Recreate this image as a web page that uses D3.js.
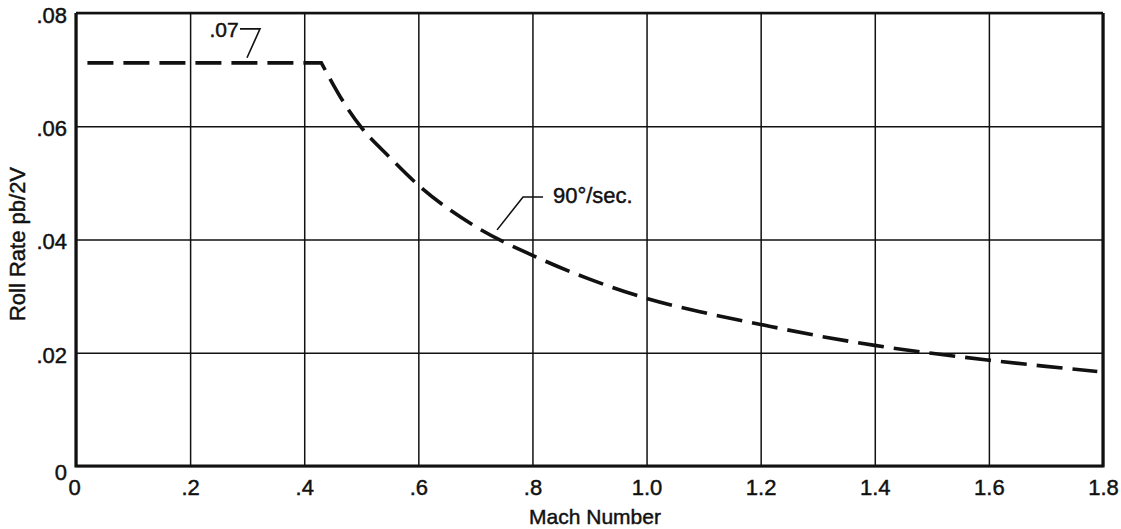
<!DOCTYPE html>
<html>
<head>
<meta charset="utf-8">
<script src="https://cdn.jsdelivr.net/npm/d3@7"></script>
<style>
  html, body { margin: 0; padding: 0; background: #fff; }
  svg { display: block; font-family: "Liberation Sans", Arial, Helvetica, sans-serif; }
  svg text { stroke: #111; stroke-width: 0.45px; }
</style>
</head>
<body>
<svg id="chart" width="1121" height="529"></svg>
<script>
// Roll rate requirement vs Mach number (90 deg/sec boundary)
const machTicks = [0, 0.2, 0.4, 0.6, 0.8, 1.0, 1.2, 1.4, 1.6, 1.8];
const machTickLabels = ["0", ".2", ".4", ".6", ".8", "1.0", "1.2", "1.4", "1.6", "1.8"];
const rateTicks = [0, 0.02, 0.04, 0.06, 0.08];
const rateTickLabels = ["0", ".02", ".04", ".06", ".08"];

// Boundary curve: flat at .07 up to about M 0.43, then constant 90 deg/sec
const mach = [0.02, 0.43, 0.475, 0.5, 0.55, 0.6, 0.7, 0.8, 0.9, 1.0, 1.1, 1.2, 1.3, 1.4, 1.5, 1.6, 1.7, 1.79];
const rollRate = [0.0712, 0.0712, 0.0633, 0.0598, 0.0545, 0.0496, 0.0423, 0.0372, 0.0330, 0.0296, 0.0271, 0.0250, 0.0230, 0.0213, 0.0199, 0.0187, 0.0176, 0.0167];

const svg = d3.select("#chart");
const plotLeft = 76, plotRight = 1103, plotTop = 13, plotBottom = 466;
const ink = "#111";

const x = d3.scaleLinear().domain([0, 1.8]).range([plotLeft, plotRight]);
const y = d3.scaleLinear().domain([0, 0.08]).range([plotBottom, plotTop]);

// Vertical grid + x labels
const xAxis = svg.append("g")
  .attr("transform", `translate(0,${plotBottom})`)
  .call(d3.axisBottom(x).tickValues(machTicks)
    .tickFormat((d, i) => machTickLabels[i])
    .tickSize(-(plotBottom - plotTop)).tickPadding(13));
xAxis.select(".domain").remove();
xAxis.selectAll("line").attr("stroke", ink).attr("stroke-width", 1.5);
xAxis.selectAll("text").attr("font-size", 22).attr("fill", ink)
  .attr("dx", (d, i) => i === 0 ? -2 : 0);

// Horizontal grid + y labels
const yAxis = svg.append("g")
  .attr("transform", `translate(${plotLeft},0)`)
  .call(d3.axisLeft(y).tickValues(rateTicks)
    .tickFormat((d, i) => rateTickLabels[i])
    .tickSize(-(plotRight - plotLeft)).tickPadding(9));
yAxis.select(".domain").remove();
yAxis.selectAll("line").attr("stroke", ink).attr("stroke-width", 1.5);
yAxis.selectAll("text").attr("font-size", 22).attr("fill", ink)
  .attr("dy", (d, i) => i === 0 ? "0.6em" : "0.42em");

// Frame
svg.append("path")
  .attr("d", `M${x(0)},${y(0.08)}H${x(1.8)}`)
  .attr("fill", "none").attr("stroke", ink).attr("stroke-width", 2.5);
svg.append("path")
  .attr("d", `M${x(0)},${y(0.08)}V${y(0)}H${x(1.8)}V${y(0.08)}`)
  .attr("fill", "none").attr("stroke", ink).attr("stroke-width", 3.2);

// Dashed boundary: straight plateau, then a smooth falling branch
const pts = mach.map((m, i) => [m, rollRate[i]]);
const curve = d3.line().x(d => x(d[0])).y(d => y(d[1])).curve(d3.curveMonotoneX);
const branch = curve(pts.slice(1));
const boundaryPath = `M${x(pts[0][0])},${y(pts[0][1])}L` + branch.slice(1);
svg.append("path")
  .attr("d", boundaryPath)
  .attr("fill", "none")
  .attr("stroke", ink)
  .attr("stroke-width", 3.6)
  .attr("stroke-dasharray", "26,10");

// ".07" callout
svg.append("text")
  .attr("x", x(0.285)).attr("y", y(0.0758))
  .attr("text-anchor", "end").attr("font-size", 21).attr("fill", ink)
  .text(".07");
svg.append("path")
  .attr("d", d3.line()([[x(0.2874), y(0.0772)], [x(0.3225), y(0.0772)], [x(0.2997), y(0.0721)]]))
  .attr("fill", "none").attr("stroke", ink).attr("stroke-width", 1.6);

// "90°/sec." callout
svg.append("path")
  .attr("d", d3.line()([[x(0.738), y(0.0417)], [x(0.7835), y(0.0475)], [x(0.8186), y(0.0475)]]))
  .attr("fill", "none").attr("stroke", ink).attr("stroke-width", 1.6);
svg.append("text")
  .attr("x", x(0.836)).attr("y", y(0.0464))
  .attr("font-size", 22).attr("fill", ink)
  .text("90°/sec.");

// Axis titles
svg.append("text")
  .attr("x", 595).attr("y", 524)
  .attr("text-anchor", "middle").attr("font-size", 21).attr("fill", ink)
  .text("Mach Number");
svg.append("text")
  .attr("transform", "translate(25,244) rotate(-90)")
  .attr("text-anchor", "middle").attr("font-size", 22).attr("fill", ink)
  .text("Roll Rate pb/2V");
</script>
</body>
</html>
